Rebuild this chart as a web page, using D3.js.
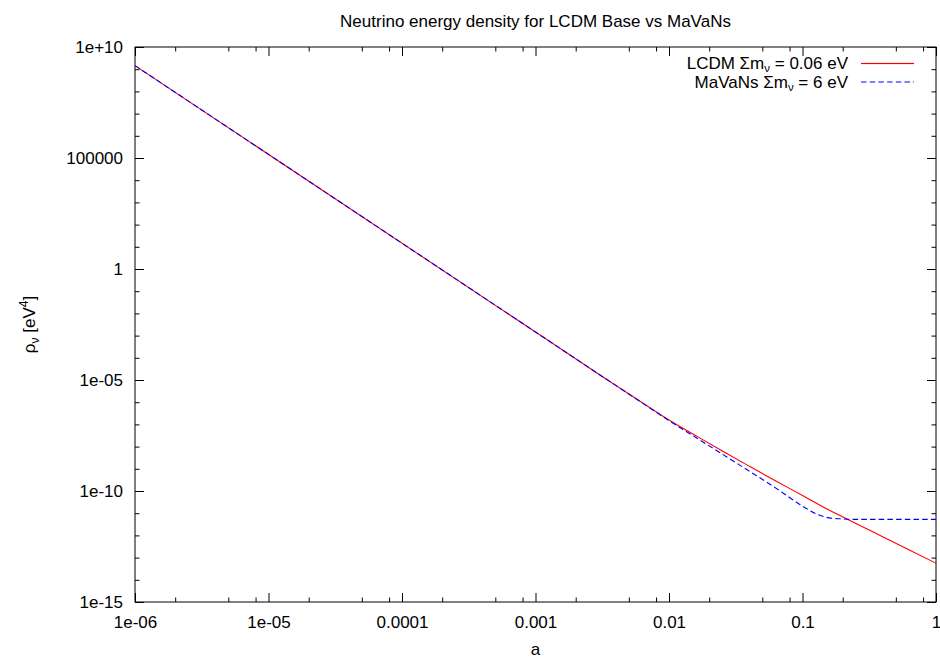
<!DOCTYPE html>
<html>
<head>
<meta charset="utf-8">
<script src="https://cdn.jsdelivr.net/npm/d3@7"></script>
<style>
    body { margin: 0; background: #fff; }
    svg { font-family: "Liberation Sans", Arial, Helvetica, sans-serif; }
</style>
</head>
<body>
<div id="chart"></div>
<script>
// scale factor a and energy density
const aLcdm = [1e-6, 1e-3, 3.16e-3, 6.31e-3, 0.01, 0.0158, 0.0251, 0.0398, 0.0631, 0.1, 0.158, 0.251, 0.398, 0.631, 1];
const rhoLcdm = [1.45e9, 1.45e-3, 1.45e-5, 9.5e-7, 1.58e-7, 3.16e-8, 6.31e-9, 1.32e-9, 2.82e-10, 6.31e-11, 1.38e-11, 3.47e-12, 8.71e-13, 2.19e-13, 5.62e-14];

const aMavans = [1e-6, 1e-3, 3.16e-3, 6.31e-3, 0.01, 0.0158, 0.0251, 0.0398, 0.0631, 0.0794, 0.1, 0.126, 0.158, 0.2, 0.251, 0.316, 1];
const rhoMavans = [1.45e9, 1.45e-3, 1.45e-5, 9.3e-7, 1.48e-7, 2.63e-8, 4.57e-9, 7.94e-10, 1.35e-10, 5.25e-11, 2.09e-11, 9.55e-12, 6.17e-12, 5.5e-12, 5.25e-12, 5.25e-12, 5.25e-12];

const xTicks = [1e-6, 1e-5, 1e-4, 1e-3, 0.01, 0.1, 1];
const xTickLabels = ["1e-06", "1e-05", "0.0001", "0.001", "0.01", "0.1", "1"];
const yTicks = [1e10, 1e5, 1, 1e-5, 1e-10, 1e-15];
const yTickLabels = ["1e+10", "100000", "1", "1e-05", "1e-10", "1e-15"];

const W = 940, H = 661;
const margin = { top: 47, right: 4, bottom: 59, left: 135 };
const iw = W - margin.left - margin.right;
const ih = H - margin.top - margin.bottom;

const svg = d3.select("#chart").append("svg")
    .attr("width", W)
    .attr("height", H);

const g = svg.append("g").attr("transform", `translate(${margin.left},${margin.top})`);

const x = d3.scaleLog().domain([1e-6, 1]).range([0, iw]);
const y = d3.scaleLog().domain([1e-15, 1e10]).range([ih, 0]);

// minor ticks: x at 2,5,8 of each decade, y every decade
const xMinor = [];
xTicks.slice(0, -1).forEach(d => [2, 5, 8].forEach(m => xMinor.push(d * m)));
const yMinor = d3.range(-15, 11).map(e => Math.pow(10, e)).filter(v => !yTicks.includes(v));

const fmtX = d => xTickLabels[xTicks.indexOf(d)];
const fmtY = d => yTickLabels[yTicks.indexOf(d)];

function styleAxis(sel) {
    sel.select(".domain").remove();
    sel.selectAll("line").attr("stroke", "#000");
    sel.selectAll("text").attr("font-size", 17).attr("fill", "#000");
}

g.append("g").attr("transform", `translate(0,${ih})`)
    .call(d3.axisBottom(x).tickValues(xTicks).tickFormat(fmtX).tickSize(-9).tickPadding(14))
    .call(styleAxis);
g.append("g").attr("transform", `translate(0,${ih})`)
    .call(d3.axisBottom(x).tickValues(xMinor).tickFormat("").tickSize(-4.5))
    .call(styleAxis);
g.append("g")
    .call(d3.axisTop(x).tickValues(xTicks).tickFormat("").tickSize(-9))
    .call(styleAxis);
g.append("g")
    .call(d3.axisTop(x).tickValues(xMinor).tickFormat("").tickSize(-4.5))
    .call(styleAxis);

g.append("g")
    .call(d3.axisLeft(y).tickValues(yTicks).tickFormat(fmtY).tickSize(-9).tickPadding(12))
    .call(styleAxis);
g.append("g")
    .call(d3.axisLeft(y).tickValues(yMinor).tickFormat("").tickSize(-4.5))
    .call(styleAxis);
g.append("g").attr("transform", `translate(${iw},0)`)
    .call(d3.axisRight(y).tickValues(yTicks).tickFormat("").tickSize(-9))
    .call(styleAxis);
g.append("g").attr("transform", `translate(${iw},0)`)
    .call(d3.axisRight(y).tickValues(yMinor).tickFormat("").tickSize(-4.5))
    .call(styleAxis);

g.append("rect")
    .attr("x", 0).attr("y", 0)
    .attr("width", iw).attr("height", ih)
    .attr("fill", "none")
    .attr("stroke", "#000")
    .attr("stroke-width", 1);

const line = d3.line()
    .x(d => x(d[0]))
    .y(d => y(d[1]))
    .curve(d3.curveMonotoneX);

const series = [
    { a: aLcdm, rho: rhoLcdm, color: "#ff0000", dash: "none", label: ["LCDM Σm", "ν", " = 0.06 eV"] },
    { a: aMavans, rho: rhoMavans, color: "#0000ff", dash: "5.5,3.2", label: ["MaVaNs Σm", "ν", " = 6 eV"] }
];

g.append("g").selectAll("path")
    .data(series)
    .join("path")
    .attr("fill", "none")
    .attr("stroke", d => d.color)
    .attr("stroke-width", 1.1)
    .attr("stroke-dasharray", d => d.dash)
    .attr("d", d => line(d.a.map((v, i) => [v, d.rho[i]])));

// legend
const legend = svg.append("g").attr("class", "legend");

legend.selectAll("rect")
    .data(series)
    .join("rect")
    .attr("x", 861)
    .attr("y", (d, i) => 63.5 + i * 18.5 - 0.6)
    .attr("width", 53)
    .attr("height", 1.2)
    .attr("fill", d => d.dash === "none" ? d.color : "none");

legend.selectAll("path")
    .data(series)
    .join("path")
    .attr("d", (d, i) => `M861,${63.5 + i * 18.5}H914`)
    .attr("fill", "none")
    .style("stroke", d => d.color)
    .style("stroke-width", "1.1px")
    .style("stroke-dasharray", d => d.dash);

const lt = legend.selectAll("text")
    .data(series)
    .join("text")
    .attr("x", 848)
    .attr("y", (d, i) => 69 + i * 18.5)
    .attr("text-anchor", "end")
    .attr("font-size", 17);
lt.append("tspan").text(d => d.label[0]);
lt.append("tspan").attr("font-size", 11.5).attr("dy", 3).text(d => d.label[1]);
lt.append("tspan").attr("dy", -3).text(d => d.label[2]);

// title
svg.append("text")
    .attr("x", margin.left + iw / 2)
    .attr("y", 27)
    .attr("text-anchor", "middle")
    .attr("font-size", 17)
    .text("Neutrino energy density for LCDM Base vs MaVaNs");

// x label
svg.append("text")
    .attr("x", margin.left + iw / 2)
    .attr("y", 655)
    .attr("text-anchor", "middle")
    .attr("font-size", 17)
    .text("a");

// y label
const yl = svg.append("text")
    .attr("transform", `translate(35,${margin.top + ih / 2}) rotate(-90)`)
    .attr("text-anchor", "middle")
    .attr("font-size", 17);
yl.append("tspan").text("ρ");
yl.append("tspan").attr("font-size", 12).attr("dy", 4).text("ν");
yl.append("tspan").attr("dy", -4).text(" [eV");
yl.append("tspan").attr("font-size", 12).attr("dy", -7).text("4");
yl.append("tspan").attr("dy", 7).text("]");
</script>
</body>
</html>
